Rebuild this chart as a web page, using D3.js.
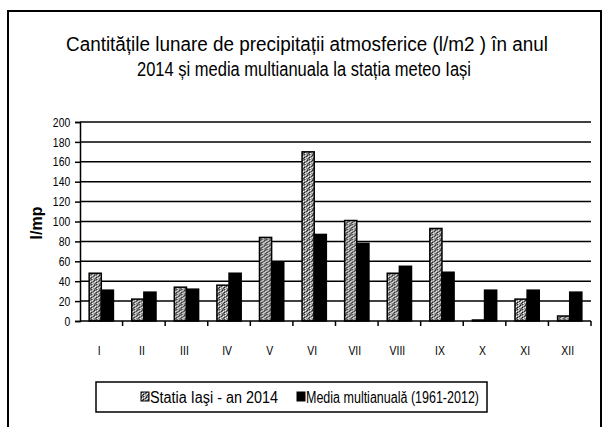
<!DOCTYPE html>
<html lang="ro">
<head>
<meta charset="UTF-8">
<title>Precipitatii Iasi 2014</title>
<script src="https://cdn.jsdelivr.net/npm/d3@7"></script>
<style>
  body { margin: 0; background: #fff; }
  svg text { font-family: "Liberation Sans", Arial, sans-serif; fill: #000; }
</style>
</head>
<body>
<div class="container"></div>
<script>
const months = ["I", "II", "III", "IV", "V", "VI", "VII", "VIII", "IX", "X", "XI", "XII"]
const iasi2014 = [48, 22, 34, 36, 84, 170, 101, 48, 93, 1, 22, 5]
const mediaMulti = [31, 29, 32, 48, 59, 87, 78, 55, 49, 31, 31, 29]
const yTicks = [0, 20, 40, 60, 80, 100, 120, 140, 160, 180, 200]
const seriesNames = ["Statia Iaşi - an 2014", "Media multianualǎ (1961-2012)"]
const titleLines = [
  "Cantitățile lunare de precipitații atmosferice (l/m2 ) în anul",
  "2014 și media multianuala la stația meteo Iași"
]

const width = 605
const height = 427
const plot = { left: 80, right: 591, top: 122, bottom: 321 }

const svg = d3.select(".container").append("svg")
  .attr("width", width)
  .attr("height", height)

// speckled grey fill for the 2014 bars (scanned look)
const defs = svg.append("defs")
const pat = defs.append("pattern")
  .attr("id", "dither")
  .attr("width", 5).attr("height", 5)
  .attr("patternUnits", "userSpaceOnUse")
pat.append("rect").attr("width", 5).attr("height", 5).attr("fill", "#909090")
const dots = [
  [0, 0, "#222"], [3, 0, "#eee"], [1, 1, "#fff"], [4, 1, "#333"],
  [2, 2, "#111"], [0, 2, "#ddd"], [3, 3, "#fff"], [1, 3, "#444"],
  [4, 4, "#ccc"], [2, 4, "#333"], [4, 2, "#bbb"], [0, 4, "#555"]
]
pat.selectAll("rect.d").data(dots).join("rect")
  .attr("class", "d")
  .attr("x", d => d[0]).attr("y", d => d[1])
  .attr("width", 1).attr("height", 1)
  .attr("fill", d => d[2])

// outer frame
svg.append("rect")
  .attr("x", 8).attr("y", 11)
  .attr("width", 593).attr("height", 430)
  .attr("fill", "none")
  .attr("stroke", "#000")
  .attr("stroke-width", 2)

// title, squeezed to look like a narrow face
const titleLen = [482, 334]
svg.append("g").selectAll("text").data(titleLines).join("text")
  .attr("x", (d, i) => i === 0 ? 66 : 137)
  .attr("y", (d, i) => 51 + i * 25)
  .attr("font-size", 20)
  .attr("textLength", (d, i) => titleLen[i])
  .attr("lengthAdjust", "spacingAndGlyphs")
  .text(d => d)

const x0 = d3.scaleBand()
  .domain(months)
  .range([plot.left, plot.right])
  .paddingInner(0.43)
  .paddingOuter(0.215)

const x1 = d3.scaleBand()
  .domain([0, 1])
  .range([0, x0.bandwidth()])

const y = d3.scaleLinear()
  .domain([0, 200])
  .range([plot.bottom, plot.top])

// gridlines
svg.append("g").selectAll("line").data(yTicks.slice(1)).join("line")
  .attr("x1", plot.left).attr("x2", plot.right)
  .attr("y1", d => y(d)).attr("y2", d => y(d))
  .attr("stroke", "#000")
  .attr("stroke-width", 1.5)

// bars
const groups = svg.append("g").selectAll("g").data(months).join("g")
  .attr("transform", d => `translate(${x0(d)},0)`)

groups.selectAll("rect")
  .data((d, i) => [iasi2014[i], mediaMulti[i]])
  .join("rect")
  .attr("x", (d, j) => x1(j))
  .attr("y", d => y(d))
  .attr("width", x1.bandwidth())
  .attr("height", d => plot.bottom - y(d))
  .attr("fill", (d, j) => j === 0 ? "url(#dither)" : "#000")
  .attr("stroke", "#000")
  .attr("stroke-width", 1.5)

// y axis
const yAxis = d3.axisLeft(y).tickValues(yTicks).tickSize(5).tickPadding(4)
const yG = svg.append("g")
  .attr("transform", `translate(${plot.left},0)`)
  .call(yAxis)
yG.select(".domain").attr("stroke-width", 1.5)
yG.selectAll(".tick line").attr("stroke-width", 1.5)
yG.selectAll(".tick text")
  .attr("font-size", 13)
  .attr("transform", "translate(-9,0) scale(0.8,1)")
  .attr("x", -1)

// x axis: ticks between categories, labels centred
const xG = svg.append("g")
  .attr("transform", `translate(0,${plot.bottom})`)
xG.append("line")
  .attr("x1", plot.left).attr("x2", plot.right)
  .attr("stroke", "#000").attr("stroke-width", 1.5)
const step = x0.step()
xG.selectAll("line.tk").data(months).join("line")
  .attr("class", "tk")
  .attr("x1", (d, i) => plot.left + step * (i + 1))
  .attr("x2", (d, i) => plot.left + step * (i + 1))
  .attr("y1", 0).attr("y2", 5)
  .attr("stroke", "#000").attr("stroke-width", 1.5)
xG.selectAll("text").data(months).join("text")
  .attr("transform", d => `translate(${x0(d) + x0.bandwidth() / 2 - 2},34) scale(0.8,1)`)
  .attr("text-anchor", "middle")
  .attr("font-size", 13)
  .text(d => d)

// y label
svg.append("text")
  .attr("transform", `translate(42,223) rotate(-90)`)
  .attr("text-anchor", "middle")
  .attr("font-size", 16)
  .attr("font-weight", "bold")
  .text("l/mp")

// legend
const legend = svg.append("g")
legend.append("rect")
  .attr("x", 96).attr("y", 382)
  .attr("width", 391).attr("height", 30)
  .attr("fill", "#fff")
  .attr("stroke", "#000")
  .attr("stroke-width", 1.5)
const legX = [141, 297]
const legLen = [128, 173]
const li = legend.selectAll("g").data(seriesNames).join("g")
  .attr("transform", (d, i) => `translate(${legX[i]},397)`)
li.append("rect")
  .attr("x", 0).attr("y", -5)
  .attr("width", 8).attr("height", 9)
  .attr("fill", (d, i) => i === 0 ? "url(#dither)" : "#000")
  .attr("stroke", "#000")
  .attr("stroke-width", 1)
li.append("text")
  .attr("x", 9).attr("y", 6)
  .attr("font-size", 16)
  .attr("textLength", (d, i) => legLen[i])
  .attr("lengthAdjust", "spacingAndGlyphs")
  .text(d => d)
</script>
</body>
</html>
